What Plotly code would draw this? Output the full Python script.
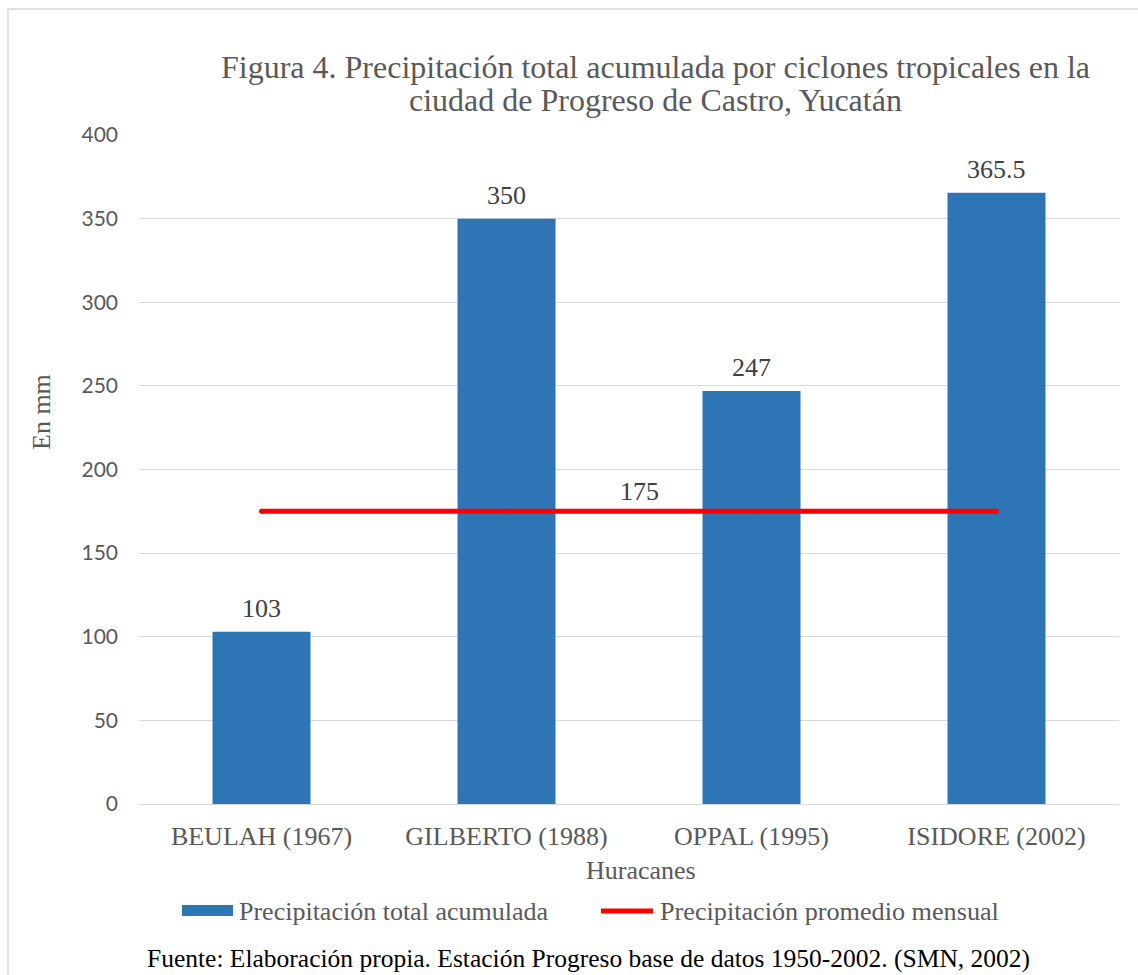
import plotly.graph_objects as go

# Data
hurricanes = ["BEULAH (1967)", "GILBERTO (1988)", "OPPAL (1995)", "ISIDORE (2002)"]
total_rain = [103, 350, 247, 365.5]
monthly_mean = [175, 175, 175, 175]
bar_name = "Precipitación total acumulada"
line_name = "Precipitación promedio mensual"
y_ticks = [0, 50, 100, 150, 200, 250, 300, 350, 400]

W, H = 1138, 975
L, R, T, B = 139, 19, 135, 171
PW, PH = W - L - R, H - T - B


def px(x):
    return (x - L) / PW


def py(y):
    return (H - B - y) / PH


SERIF = "Liberation Serif, Times New Roman, serif"
SANS = "Lato, Open Sans, sans-serif"
GREY = "#595959"
BLUE = "#2E75B6"
RED = "#FF0000"

fig = go.Figure()
fig.add_trace(go.Bar(
    x=hurricanes, y=total_rain, name=bar_name,
    marker=dict(color=BLUE, line=dict(width=0)),
    showlegend=False,
))
fig.add_trace(go.Scatter(
    x=hurricanes, y=monthly_mean, name=line_name,
    mode="lines+markers",
    line=dict(color=RED, width=5),
    marker=dict(color=RED, size=5),
    showlegend=False,
))

annotations = []
# value labels above bars
for h, v in zip(hurricanes, total_rain):
    annotations.append(dict(
        x=h, y=v, xref="x", yref="y", text=f"{v:g}", showarrow=False,
        yanchor="bottom", yshift=7,
        font=dict(family=SERIF, size=26, color="#404040"),
    ))
# label for the mean line
annotations.append(dict(
    x=1.5, y=monthly_mean[0], xref="x", yref="y", text=f"{monthly_mean[0]:g}",
    showarrow=False, yanchor="middle", yshift=20, xshift=10,
    font=dict(family=SERIF, size=26, color="#404040"),
))
# title
annotations.append(dict(
    x=px(655), y=py(67), xref="paper", yref="paper", showarrow=False,
    text="Figura 4. Precipitación total acumulada por ciclones tropicales en la",
    xanchor="center", yanchor="middle",
    font=dict(family=SERIF, size=32, color=GREY),
))
annotations.append(dict(
    x=px(655), y=py(100), xref="paper", yref="paper", showarrow=False,
    text="ciudad de Progreso de Castro, Yucatán",
    xanchor="center", yanchor="middle",
    font=dict(family=SERIF, size=32, color=GREY),
))
# axis titles
annotations.append(dict(
    x=px(41), y=py(412), xref="paper", yref="paper", showarrow=False,
    text="En mm", textangle=-90, xanchor="center", yanchor="middle",
    font=dict(family=SERIF, size=26, color=GREY),
))
annotations.append(dict(
    x=px(641), y=py(870), xref="paper", yref="paper", showarrow=False,
    text="Huracanes", xanchor="center", yanchor="middle",
    font=dict(family=SERIF, size=26, color=GREY),
))
# legend texts
annotations.append(dict(
    x=px(237), y=py(911), xref="paper", yref="paper", showarrow=False,
    text=bar_name, xanchor="left", yanchor="middle",
    font=dict(family=SERIF, size=26, color=GREY),
))
annotations.append(dict(
    x=px(658), y=py(911), xref="paper", yref="paper", showarrow=False,
    text=line_name, xanchor="left", yanchor="middle",
    font=dict(family=SERIF, size=26.2, color=GREY),
))
# source note
annotations.append(dict(
    x=px(588), y=py(958), xref="paper", yref="paper", showarrow=False,
    text="Fuente: Elaboración propia. Estación Progreso base de datos 1950-2002. (SMN, 2002)",
    xanchor="center", yanchor="middle",
    font=dict(family=SERIF, size=25.5, color="#000000"),
))

shapes = [
    # outer frame
    dict(type="rect", xref="paper", yref="paper",
         x0=px(8), x1=px(1150), y0=py(990), y1=py(9),
         line=dict(color="#D9D9D9", width=1.5), fillcolor="rgba(0,0,0,0)",
         layer="below"),
    # legend glyphs
    dict(type="rect", xref="paper", yref="paper",
         x0=px(182), x1=px(233), y0=py(916), y1=py(905),
         line=dict(width=0), fillcolor=BLUE),
    dict(type="line", xref="paper", yref="paper",
         x0=px(601), x1=px(653), y0=py(911), y1=py(911),
         line=dict(color=RED, width=5)),
]

fig.update_layout(
    width=W, height=H, autosize=False,
    margin=dict(l=L, r=R, t=T, b=B, pad=0),
    paper_bgcolor="white", plot_bgcolor="white",
    bargap=0.6,
    showlegend=False,
    annotations=annotations,
    shapes=shapes,
    xaxis=dict(
        type="category", showgrid=False, zeroline=False, showline=False,
        ticks="", tickfont=dict(family=SERIF, size=26, color=GREY),
        ticklabelstandoff=14,
    ),
    yaxis=dict(
        range=[0, 400], tickvals=y_ticks, showgrid=True,
        gridcolor="#D9D9D9", gridwidth=1.3,
        zeroline=True, zerolinecolor="#D9D9D9", zerolinewidth=1.3,
        showline=False, ticks="",
        tickfont=dict(family=SANS, size=21, color=GREY),
        ticklabelstandoff=20,
    ),
)

fig.write_html("out.html")
